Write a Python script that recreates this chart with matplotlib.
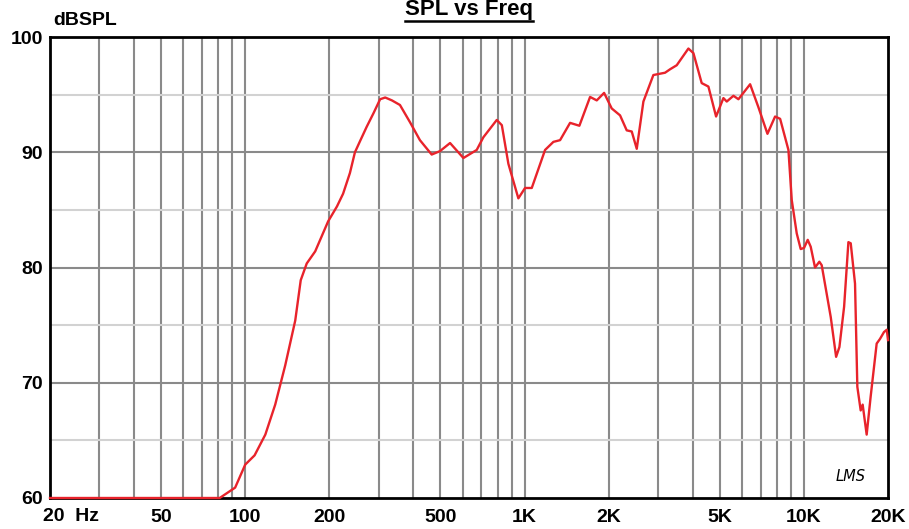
import numpy as np
import matplotlib
matplotlib.use("Agg")
import matplotlib.pyplot as plt
from matplotlib.lines import Line2D

# SPL response
freq = [20, 50, 81, 92, 100, 108, 118, 128, 139, 151, 158, 166, 178, 198, 213,
        224, 237, 247, 258, 272, 288, 304, 317, 335, 358, 389, 422, 465, 498,
        541, 604, 674, 712, 795, 829, 875, 950, 1004, 1061, 1184, 1268, 1340,
        1455, 1571, 1716, 1813, 1926, 2051, 2197, 2321, 2419, 2521, 2663, 2891,
        3183, 3318, 3505, 3859, 4022, 4306, 4551, 4848, 5150, 5294, 5594, 5829,
        6418, 6874, 7404, 7885, 8220, 8802, 9046, 9425, 9739, 10011, 10319,
        10577, 10959, 11357, 11580, 12475, 13040, 13400, 13929, 14430, 14710,
        15240, 15533, 15967, 16230, 16775, 17336, 18217, 18720, 19350, 19800,
        20000]
spl = [60.0, 60.0, 60.0, 60.9, 62.9, 63.7, 65.5, 68.1, 71.5, 75.4, 78.9, 80.35,
       81.4, 84.0, 85.3, 86.4, 88.2, 90.0, 91.0, 92.2, 93.4, 94.6, 94.75, 94.5,
       94.1, 92.6, 91.05, 89.8, 90.1, 90.8, 89.5, 90.2, 91.3, 92.8, 92.35, 89.0,
       86.0, 86.9, 86.9, 90.2, 90.9, 91.05, 92.55, 92.3, 94.8, 94.5, 95.15,
       93.8, 93.2, 91.9, 91.8, 90.3, 94.4, 96.7, 96.9, 97.2, 97.55, 99.0, 98.6,
       96.0, 95.7, 93.1, 94.7, 94.4, 94.9, 94.6, 95.9, 93.9, 91.6, 93.1, 92.9,
       90.2, 85.85, 82.96, 81.6, 81.7, 82.4, 81.8, 80.0, 80.5, 80.2, 75.7,
       72.25, 73.1, 76.6, 82.2, 82.1, 78.6, 69.65, 67.6, 68.1, 65.5, 68.8,
       73.4, 73.8, 74.4, 74.6, 73.7]

xticks = [20, 50, 100, 200, 500, 1000, 2000, 5000, 10000, 20000]
xlabels = ["", "50", "100", "200", "500", "1K", "2K", "5K", "10K", "20K"]
yticks = [60, 70, 80, 90, 100]

plt.rcParams['font.family'] = ['Liberation Sans', 'DejaVu Sans']

fig = plt.figure(figsize=(9.09, 5.29), dpi=100)
ax = fig.add_axes([50 / 909, 31 / 529, 838 / 909, 461 / 529])

ax.set_xscale('log')
ax.set_xlim(20, 20000)
ax.set_ylim(60, 100)

# grid: every 1-2-3...9 per decade, dark 10 dB lines, light 5 dB lines
vgrid = [m * 10 ** e for e in range(1, 5) for m in range(1, 10)]
for v in vgrid:
    if 20 < v < 20000:
        ax.axvline(v, color='#8a8a8a', lw=1.5, zorder=1)
for h in [65, 75, 85, 95]:
    ax.axhline(h, color='#d2d2d2', lw=1.5, zorder=1)
for h in [70, 80, 90]:
    ax.axhline(h, color='#8a8a8a', lw=1.5, zorder=1)

ax.plot(freq, spl, color='#e8232b', lw=1.7, zorder=3, clip_on=False,
        solid_joinstyle='round')

ax.set_xticks(xticks)
ax.set_xticklabels(xlabels)
ax.minorticks_off()
ax.set_yticks(yticks)
ax.tick_params(length=0, labelsize=14, pad=8)
for lbl in ax.get_xticklabels() + ax.get_yticklabels():
    lbl.set_fontweight('bold')
ax.tick_params(axis='y', pad=5)

for s in ax.spines.values():
    s.set_linewidth(2)
    s.set_color('black')

fig.text(43 / 909, 1 - 508 / 529, "20  Hz", fontsize=14, fontweight='bold',
         ha='left', va='top')
fig.text(53 / 909, 1 - 25 / 529, "dBSPL", fontsize=14, fontweight='bold',
         ha='left', va='baseline')
title = fig.text(469 / 909, 1 - 15 / 529, "SPL vs Freq", fontsize=16,
                 fontweight='bold', ha='center', va='baseline')
fig.text(836 / 909, 1 - 481 / 529, "LMS", fontsize=10.5, style='italic',
         ha='left', va='baseline', family='DejaVu Sans')

# underline the title
fig.canvas.draw()
bb = title.get_window_extent()
fig.add_artist(Line2D([bb.x0 / 909, bb.x1 / 909],
                      [1 - 20.5 / 529, 1 - 20.5 / 529],
                      color='black', lw=1.8, transform=fig.transFigure))

fig.savefig('out.png', dpi=100)
